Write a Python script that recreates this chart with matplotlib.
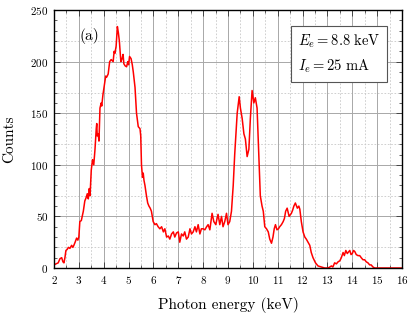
import matplotlib
matplotlib.use("Agg")
import matplotlib.pyplot as plt
from matplotlib.ticker import MultipleLocator

plt.rcParams['font.family'] = ['cmr10', 'DejaVu Serif']
plt.rcParams['mathtext.fontset'] = 'cm'
plt.rcParams['axes.unicode_minus'] = False
plt.rcParams['axes.formatter.use_mathtext'] = True

energy = [2.0, 2.08, 2.17, 2.24, 2.31, 2.36, 2.4, 2.44, 2.48, 2.53, 2.58, 2.64, 2.71, 2.76, 2.8, 2.85, 2.91, 2.96, 3.0,
          3.04, 3.1, 3.18, 3.24, 3.29, 3.34, 3.38, 3.42, 3.45, 3.5, 3.55, 3.6, 3.65, 3.7, 3.72, 3.74, 3.78, 3.81, 3.85,
          3.9, 3.92, 3.97, 4.03, 4.08, 4.12, 4.18, 4.24, 4.3, 4.38, 4.42, 4.45, 4.5, 4.55, 4.59, 4.63, 4.66, 4.69, 4.74,
          4.78, 4.81, 4.86, 4.92, 4.97, 5.0, 5.04, 5.1, 5.15, 5.19, 5.26, 5.32, 5.39, 5.46, 5.49, 5.52, 5.56, 5.59, 5.62,
          5.66, 5.72, 5.77, 5.82, 5.87, 5.92, 5.99, 6.06, 6.12, 6.19, 6.26, 6.33, 6.4, 6.46, 6.53, 6.6, 6.66, 6.73, 6.8,
          6.86, 6.93, 7.0, 7.06, 7.13, 7.2, 7.26, 7.33, 7.4, 7.47, 7.53, 7.6, 7.67, 7.73, 7.8, 7.87, 7.93, 8.0, 8.07,
          8.14, 8.2, 8.27, 8.36, 8.43, 8.51, 8.56, 8.6, 8.67, 8.74, 8.8, 8.87, 8.94, 9.0, 9.07, 9.14, 9.21, 9.27, 9.32,
          9.37, 9.42, 9.45, 9.5, 9.57, 9.64, 9.7, 9.77, 9.84, 9.9, 9.94, 9.97, 10.04, 10.1, 10.17, 10.24, 10.3, 10.37,
          10.42, 10.48, 10.55, 10.62, 10.68, 10.75, 10.81, 10.86, 10.91, 10.97, 11.03, 11.08, 11.15, 11.22, 11.27,
          11.32, 11.38, 11.46, 11.55, 11.6, 11.65, 11.71, 11.79, 11.85, 11.89, 11.95, 12.02, 12.09, 12.15, 12.22,
          12.29, 12.35, 12.42, 12.52, 12.62, 12.76, 12.89, 13.02, 13.1, 13.16, 13.22, 13.29, 13.36, 13.43, 13.5, 13.56,
          13.63, 13.68, 13.74, 13.8, 13.83, 13.9, 13.95, 14.0, 14.05, 14.1, 14.16, 14.23, 14.3, 14.36, 14.43, 14.5,
          14.56, 14.63, 14.7, 14.76, 14.83, 14.9, 14.97, 15.2, 15.5, 16.0]
counts = [3, 4, 5, 9, 10, 6, 5, 10, 17, 18, 20, 19, 22, 20, 22, 25, 29, 27, 30,
          45, 46, 55, 65, 68, 72, 67, 77, 70, 95, 105, 100, 115, 135, 140, 128, 130, 123, 155,
          160, 157, 168, 178, 186, 185, 188, 200, 202, 200, 210, 208, 215, 234, 228, 220, 210, 200, 203,
          207, 198, 196, 195, 200, 197, 205, 203, 197, 190, 175, 150, 137, 135, 128, 100, 88, 92, 85,
          80, 70, 63, 60, 58, 55, 45, 42, 43, 40, 38, 40, 35, 38, 30, 31, 28, 33, 35,
          30, 34, 35, 25, 33, 31, 35, 28, 30, 38, 33, 35, 40, 35, 42, 33, 38, 38, 37,
          40, 42, 37, 53, 45, 42, 48, 52, 42, 50, 40, 45, 53, 42, 45, 55, 80, 110, 130,
          150, 160, 166, 155, 145, 130, 125, 108, 115, 145, 160, 172, 160, 165, 155, 110, 70, 60,
          55, 40, 38, 35, 28, 24, 30, 38, 42, 37, 38, 40, 42, 45, 48,
          55, 58, 50, 53, 56, 60, 63, 58, 60, 57, 45, 35, 30, 28, 25,
          22, 15, 10, 5, 2, 1, 0, 0, 1, 2, 1, 5, 4, 6, 7, 10,
          15, 12, 17, 14, 15, 17, 13, 14, 17, 16, 13, 12, 12, 10, 8, 8,
          6, 5, 3, 3, 1, 0, 0, 0, 0, 0]

xticks = list(range(2, 17))
yticks = [0, 50, 100, 150, 200, 250]
minor_ygrid = [20, 70, 120, 170, 220]

fig = plt.figure(figsize=(4.14, 3.14), dpi=100)
ax = fig.add_axes([0.1304, 0.1465, 0.8406, 0.8215])

ax.set_xlim(2, 16)
ax.set_ylim(0, 250)
ax.set_xticks(xticks)
ax.set_yticks(yticks)
ax.xaxis.set_minor_locator(MultipleLocator(0.5))
ax.yaxis.set_minor_locator(MultipleLocator(10))

ax.xaxis.grid(True, which='major', color='#a8a8a8', lw=0.7, ls='-')
ax.yaxis.grid(True, which='major', color='#a8a8a8', lw=0.7, ls='-')
ax.xaxis.grid(True, which='minor', color='#c8c8c8', lw=0.6, ls=(0, (2, 2)))
ax.yaxis.grid(False, which='minor')
for v in minor_ygrid:
    ax.axhline(v, color='#c8c8c8', lw=0.6, ls=(0, (2, 2)), zorder=0.5)
ax.set_axisbelow(True)

ax.plot(energy, counts, color='#ff0000', lw=1.1)

ax.tick_params(which='both', direction='in', top=True, right=True, labelsize=8, pad=4)
ax.tick_params(which='major', length=4, width=0.7, color='#444444')
ax.tick_params(which='minor', length=2, width=0.6, color='#444444')
for s in ax.spines.values():
    s.set_linewidth(1.0)

ax.set_xlabel('Photon energy (keV)', fontsize=11, labelpad=8)
ax.set_ylabel('Counts', fontsize=11, labelpad=10)

ax.text(0.072, 0.9, '(a)', transform=ax.transAxes, fontsize=11, ha='left', va='center')
ax.text(0.7, 0.83, '$E_e = 8.8\\ \\mathrm{keV}$\n$I_e = 25\\ \\mathrm{mA}$', transform=ax.transAxes,
        fontsize=10.5, ha='left', va='center', linespacing=1.6,
        bbox=dict(boxstyle='square,pad=0.45', fc='white', ec='#555555', lw=0.8))

fig.savefig('out.png', dpi=100)
